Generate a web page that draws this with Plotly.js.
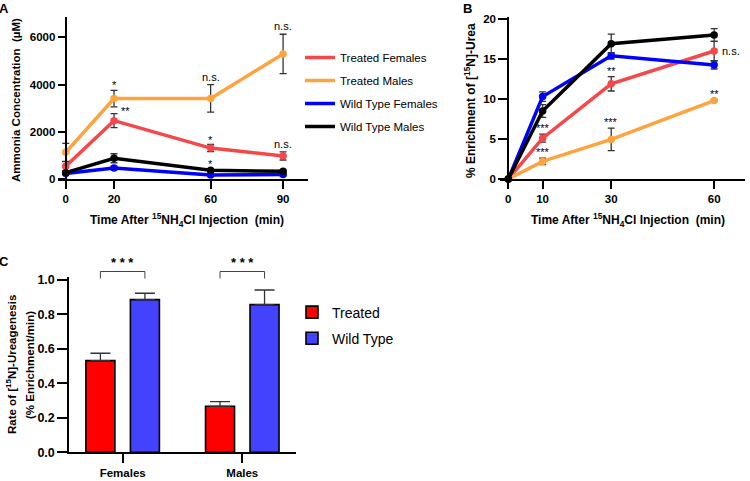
<!DOCTYPE html>
<html>
<head>
<meta charset="utf-8">
<script src="https://cdn.plot.ly/plotly-3.0.1.min.js"></script>
<style>html,body{margin:0;padding:0;background:#fff;}#chart{width:750px;height:481px;}</style>
</head>
<body>
<div id="chart"></div>
<script>
// ---------- DATA ----------
// Panel A: ammonia concentration (µM)
const timeA = [0, 20, 60, 90];
const ammTreatedFemales = [550, 2480, 1320, 985];
const ammTreatedFemalesErr = [200, 300, 150, 170];
const ammTreatedMales = [1140, 3410, 3420, 5300];
const ammTreatedMalesErr = [380, 350, 580, 830];
const ammWildFemales = [250, 480, 180, 200];
const ammWildFemalesErr = [40, 80, 40, 40];
const ammWildMales = [280, 890, 380, 340];
const ammWildMalesErr = [60, 190, 60, 50];
const tickA_y = [0, 2000, 4000, 6000];

// Panel B: % enrichment of [15N]-urea
const timeB = [0, 10, 30, 60];
const ureaTreatedFemales = [0, 5.1, 11.9, 16.0];
const ureaTreatedFemalesErr = [0, 0.5, 0.9, 1.2];
const ureaTreatedMales = [0, 2.2, 4.95, 9.8];
const ureaTreatedMalesErr = [0, 0.4, 1.4, 0.1];
const ureaWildFemales = [0, 10.3, 15.4, 14.25];
const ureaWildFemalesErr = [0, 0.6, 0.4, 0.5];
const ureaWildMales = [0, 8.5, 16.9, 18.0];
const ureaWildMalesErr = [0, 0.8, 1.2, 0.8];
const tickB_y = [0, 5, 10, 15, 20];

// Panel C: rate of ureagenesis
const groupsC = ['Females', 'Males'];
const rateTreated = [0.532, 0.267];
const rateTreatedErr = [0.043, 0.027];
const rateWild = [0.886, 0.857];
const rateWildErr = [0.037, 0.085];
const tickC_y = [0, 0.2, 0.4, 0.6, 0.8, 1.0];
const tickC_text = ['0.0', '0.2', '0.4', '0.6', '0.8', '1.0'];

const seriesNames = ['Treated Females', 'Treated Males', 'Wild Type Females', 'Wild Type Males'];
const barNames = ['Treated', 'Wild Type'];

// significance labels: [seriesIndex, x, text]
const sigA = [[1, 20, '*'], [0, 20, '**'], [1, 60, 'n.s.'], [0, 60, '*'], [3, 60, '*'], [1, 90, 'n.s.'], [0, 90, 'n.s.']];
const sigB = [[0, 10, '***'], [1, 10, '***'], [0, 30, '**'], [1, 30, '***'], [1, 60, '**'], [0, 60, 'n.s.']];
const sigC = ['* * *', '* * *'];

// ---------- STYLE ----------
const FONT = 'Liberation Sans, Arial, Helvetica, sans-serif';
const colors = ['#F5484B', '#FFA33F', '#0000FF', '#000000'];
const W = 750, H = 481;
const X = px => px / W;
const Y = py => 1 - py / H;

const aSeries = [
  [ammTreatedFemales, ammTreatedFemalesErr],
  [ammTreatedMales, ammTreatedMalesErr],
  [ammWildFemales, ammWildFemalesErr],
  [ammWildMales, ammWildMalesErr]
];
const bSeries = [
  [ureaTreatedFemales, ureaTreatedFemalesErr],
  [ureaTreatedMales, ureaTreatedMalesErr],
  [ureaWildFemales, ureaWildFemalesErr],
  [ureaWildMales, ureaWildMalesErr]
];

const traces = [];
function lineTrace(x, y, err, i, xa, ya) {
  return {
    type: 'scatter', mode: 'lines+markers', x: x, y: y,
    xaxis: xa, yaxis: ya, name: seriesNames[i], showlegend: false,
    line: {color: colors[i], width: 3.5},
    marker: {color: colors[i], size: 7.5},
    cliponaxis: false,
    error_y: {type: 'data', array: err, visible: true, color: '#333', thickness: 1.3, width: 3.5}
  };
}
aSeries.forEach((s, i) => traces.push(lineTrace(timeA, s[0], s[1], i, 'x', 'y')));
bSeries.forEach((s, i) => traces.push(lineTrace(timeB, s[0], s[1], i, 'x2', 'y2')));
// legend entries for A/B
seriesNames.forEach((n, i) => traces.push({
  type: 'scatter', mode: 'lines', x: [null], y: [null], xaxis: 'x', yaxis: 'y',
  name: n, legendgroup: 'g' + i, legend: 'legend', showlegend: true,
  line: {color: colors[i], width: 3.5}
}));
// bars C
traces.push({
  type: 'bar', x: groupsC, y: rateTreated, name: barNames[0], xaxis: 'x3', yaxis: 'y3',
  legend: 'legend2', legendgroup: 'b0',
  marker: {color: '#FF0000', line: {color: '#000', width: 1.6}},
  error_y: {type: 'data', symmetric: false, array: rateTreatedErr, arrayminus: [0, 0], color: '#333', thickness: 1.3, width: 10}
});
traces.push({
  type: 'bar', x: groupsC, y: rateWild, name: barNames[1], xaxis: 'x3', yaxis: 'y3',
  legend: 'legend2', legendgroup: 'b1',
  marker: {color: '#4242FF', line: {color: '#000', width: 1.6}},
  error_y: {type: 'data', symmetric: false, array: rateWildErr, arrayminus: [0, 0], color: '#333', thickness: 1.3, width: 10}
});

const tickFont = {family: FONT, size: 11.5, color: '#000', weight: 700};
const axBase = {
  showline: true, linecolor: '#000', linewidth: 2, ticks: 'outside', tickwidth: 2,
  tickcolor: '#000', showgrid: false, zeroline: false, tickfont: tickFont, fixedrange: true
};

const annotations = [];
function ann(o) {
  annotations.push(Object.assign({showarrow: false, xanchor: 'center', yanchor: 'middle',
    font: {family: FONT, size: 12, color: '#000', weight: 700}}, o));
}

// panel letters
const letterFont = {family: FONT, size: 13, color: '#000', weight: 700};
ann({text: 'A', xref: 'paper', yref: 'paper', x: X(4), y: Y(9), font: letterFont});
ann({text: 'B', xref: 'paper', yref: 'paper', x: X(467), y: Y(9), font: letterFont});
ann({text: 'C', xref: 'paper', yref: 'paper', x: X(4), y: Y(261), font: letterFont});

// axis titles
const timeTitle = 'Time After <sup>15</sup>NH<sub>4</sub>Cl Injection \u00a0(min)';
const smallBold = {family: FONT, size: 11.5, color: '#000', weight: 700};
ann({text: timeTitle, xref: 'paper', yref: 'paper', x: X(187), y: Y(220)});
ann({text: timeTitle, xref: 'paper', yref: 'paper', x: X(628), y: Y(220)});
ann({text: 'Ammonia Concentration \u00a0(µM)', textangle: -90, xref: 'paper', yref: 'paper', x: X(16), y: Y(100), font: smallBold});
ann({text: '% Enrichment of [<sup>15</sup>N]-Urea', textangle: -90, xref: 'paper', yref: 'paper', x: X(470), y: Y(101)});
ann({text: 'Rate of [<sup>15</sup>N]-Ureagenesis', textangle: -90, xref: 'paper', yref: 'paper', x: X(11), y: Y(365), font: smallBold});
ann({text: '(% Enrichment/min)', textangle: -90, xref: 'paper', yref: 'paper', x: X(30), y: Y(365), font: smallBold});

// significance A & B
const sigFont = {family: FONT, size: 11, color: '#000'};
sigA.forEach(([si, t, txt]) => {
  const idx = timeA.indexOf(t);
  const v = aSeries[si][0][idx], e = aSeries[si][1][idx];
  const right = (si === 0 && t === 20);
  ann({text: txt, xref: 'x', yref: 'y', x: t, y: right ? v : v + e, yanchor: 'bottom',
       xshift: right ? 11 : 0, yshift: right ? 2 : (txt === '*' ? -3 : 0), font: sigFont});
});
sigB.forEach(([si, t, txt]) => {
  const idx = timeB.indexOf(t);
  const v = bSeries[si][0][idx], e = bSeries[si][1][idx];
  const right = (txt === 'n.s.');
  ann({text: txt, xref: 'x2', yref: 'y2', x: t, y: right ? v : v + e, yanchor: right ? 'middle' : 'bottom',
       xanchor: right ? 'left' : 'center', xshift: right ? 6 : 0, yshift: right ? 0 : -2, font: sigFont});
});

// panel C brackets & stars
const bargap = 0.256, bargroupgap = 0.348;
const off = (1 - bargap) / 4;
const shapes = [];
groupsC.forEach((g, i) => {
  shapes.push({type: 'path', xref: 'x3', yref: 'paper',
    path: `M${i - off},${Y(278.5)} L${i - off},${Y(271.5)} L${i + off},${Y(271.5)} L${i + off},${Y(278.5)}`,
    line: {color: '#444', width: 1}});
  ann({text: sigC[i], xref: 'x3', yref: 'paper', x: i, y: Y(262), font: {family: FONT, size: 13, color: '#000', weight: 700}});
});

const layout = {
  width: W, height: H, margin: {l: 0, r: 0, t: 0, b: 0},
  paper_bgcolor: '#fff', plot_bgcolor: 'rgba(0,0,0,0)',
  font: {family: FONT, color: '#000'},
  bargap: bargap, bargroupgap: bargroupgap, barmode: 'group',
  xaxis: Object.assign({}, axBase, {domain: [X(58), X(307.7)], range: [-3.2, 100.2], anchor: 'y', tickvals: timeA, ticklen: 8}),
  yaxis: Object.assign({}, axBase, {domain: [Y(179.3), Y(17)], range: [0, 6860], anchor: 'free', position: X(65.7), tickvals: tickA_y, ticktext: tickA_y.map(String), ticklen: 7}),
  xaxis2: Object.assign({}, axBase, {domain: [X(500), X(745)], range: [-2.42, 69], anchor: 'y2', tickvals: timeB, ticklen: 8}),
  yaxis2: Object.assign({}, axBase, {domain: [Y(179), Y(17.4)], range: [0, 20.2], anchor: 'free', position: X(508.3), tickvals: tickB_y, ticklen: 9}),
  xaxis3: Object.assign({}, axBase, {domain: [X(69.3), X(296)], range: [-0.446, 1.449], anchor: 'y3', type: 'category', ticklen: 9}),
  yaxis3: Object.assign({}, axBase, {domain: [Y(452.3), Y(277.3)], range: [0, 1.0157], anchor: 'x3', tickvals: tickC_y, ticktext: tickC_text, ticklen: 10,
    tickfont: {family: FONT, size: 12.5, color: '#000', weight: 700}}),
  legend: {x: X(300), y: Y(43), xanchor: 'left', yanchor: 'top', bgcolor: 'rgba(0,0,0,0)', borderwidth: 0,
    font: {family: FONT, size: 11.5, color: '#000'}, tracegroupgap: 4, itemwidth: 30, traceorder: 'grouped'},
  legend2: {x: X(292), y: Y(296.5), xanchor: 'left', yanchor: 'top', bgcolor: 'rgba(0,0,0,0)', borderwidth: 0,
    font: {family: FONT, size: 14, color: '#000'}, tracegroupgap: 5, itemwidth: 30, traceorder: 'grouped'},
  annotations: annotations,
  shapes: shapes
};

Plotly.newPlot('chart', traces, layout, {displayModeBar: false, staticPlot: true});
</script>
</body>
</html>
